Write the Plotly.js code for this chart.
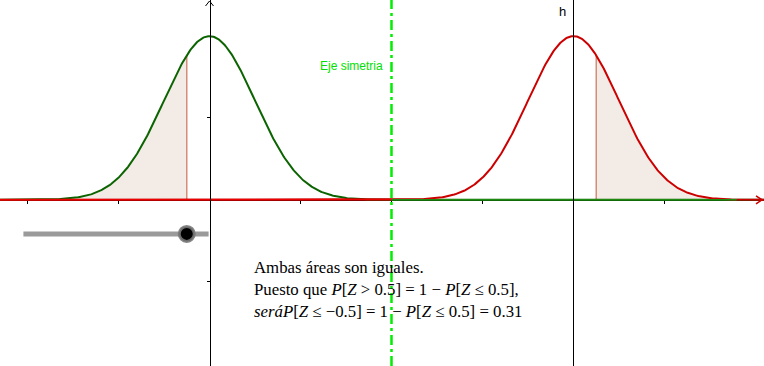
<!DOCTYPE html>
<html>
<head>
<meta charset="utf-8">
<script src="https://cdn.plot.ly/plotly-3.0.1.min.js"></script>
<style>html,body{margin:0;padding:0;background:#fff;}#chart{width:764px;height:366px;}</style>
</head>
<body>
<div id="chart"></div>
<script>
// ---- data ----
const curveNames = ["f", "g"];
const curveMeans = [0, 8];
const curveSds = [1, 1];
const cutOffsets = [-0.5, 0.5];      // shaded tail boundary relative to each mean
const symmetryAxis = [4];
const xTickVals = [-4, -2, 2, 4, 6, 8, 10];
const yTickVals = [-0.2, 0.2];
const sliderRange = [-4.09, -0.02];
const sliderLevel = [-0.083];
const textLines = [
  "Ambas áreas son iguales.",
  "Puesto que <i>P</i>[<i>Z</i> &gt; 0.5] = 1 − <i>P</i>[<i>Z</i> ≤ 0.5],",
  "<i>será</i><i>P</i>[<i>Z</i> ≤ −0.5] = 1 − <i>P</i>[<i>Z</i> ≤ 0.5] = 0.31"
];
const symLabel = "Eje simetria";
const hLabel = "h";

// ---- styles ----
const xRange = [-4.6044, 12.1868];
const yRange = [-0.405, 0.487];
const curveColors = ["#0b6400", "#cc0000"];
const fillColor = "#f3ebe6";
const cutColor = "rgb(214,140,118)";

function pdf(x, m, s) {
  return Math.exp(-((x - m) * (x - m)) / (2 * s * s)) / (s * Math.sqrt(2 * Math.PI));
}
function grid(a, b, n) {
  const out = [];
  for (let i = 0; i <= n; i++) out.push(a + (b - a) * i / n);
  return out;
}

const traces = [];
// shaded tails
curveMeans.forEach((m, i) => {
  const c = m + cutOffsets[i];
  const xs = cutOffsets[i] < 0 ? grid(xRange[0] - 0.2, c, 300) : grid(c, xRange[1] + 0.2, 300);
  const ys = xs.map(x => pdf(x, m, curveSds[i]));
  xs.push(xs[xs.length - 1]); ys.push(0);
  xs.unshift(xs[0]); ys.unshift(0);
  traces.push({x: xs, y: ys, mode: "lines", line: {width: 0}, fill: "toself",
    fillcolor: fillColor, hoverinfo: "skip"});
  traces.push({x: [c, c], y: [0, pdf(c, m, curveSds[i])], mode: "lines",
    line: {color: cutColor, width: 1.5}, hoverinfo: "skip"});
});
// curves
[0, 1].forEach(i => {
  const xs = grid(xRange[0] - 0.2, xRange[1] + 0.2, 900);
  traces.push({x: xs, y: xs.map(x => pdf(x, curveMeans[i], curveSds[i])), mode: "lines",
    name: curveNames[i], line: {color: curveColors[i], width: 2}, hoverinfo: "skip"});
});
// bright red tail on the left of the symmetry axis
{
  const xs = grid(xRange[0] - 0.2, symmetryAxis[0], 300);
  traces.push({x: xs, y: xs.map(x => pdf(x, curveMeans[1], curveSds[1])), mode: "lines",
    line: {color: "#ee0000", width: 1.5}, hoverinfo: "skip"});
}
// green tail again on the right side of the symmetry axis
{
  const xs = grid(symmetryAxis[0], xRange[1] - 0.6, 300);
  traces.push({x: xs, y: xs.map(x => pdf(x, curveMeans[0], curveSds[0])), mode: "lines",
    line: {color: "#1f8a10", width: 1.5}, hoverinfo: "skip"});
}
// slider knob
traces.push({x: [curveMeans[0] + cutOffsets[0]], y: [sliderLevel[0]], mode: "markers",
  marker: {size: 15, color: "#000", line: {color: "rgba(120,120,120,0.9)", width: 3}}, hoverinfo: "skip"});

const yAxisPos = (0 - xRange[0]) / (xRange[1] - xRange[0]);
const xAxisPos = (0 - yRange[0]) / (yRange[1] - yRange[0]);

const shapes = [
  // h line at mean of second curve
  {type: "line", xref: "x", yref: "paper", x0: curveMeans[1], x1: curveMeans[1], y0: 0, y1: 1,
    line: {color: "#000", width: 1}, layer: "above"},
  // symmetry axis
  {type: "line", xref: "x", yref: "paper", x0: symmetryAxis[0], x1: symmetryAxis[0], y0: 0, y1: 1,
    line: {color: "#00ee00", width: 2.5, dash: "10px,4px,3px,4px"}, layer: "above"},
  // slider bar
  {type: "line", xref: "x", yref: "y", x0: sliderRange[0], x1: sliderRange[1], y0: sliderLevel[0], y1: sliderLevel[0],
    line: {color: "#9a9a9a", width: 5}, layer: "below"},
  // y axis arrow
  {type: "path", xref: "x", yref: "paper", xsizemode: "pixel", ysizemode: "pixel", xanchor: 0, yanchor: 1,
    path: "M-4,-6 L0,-1 L4,-6", line: {color: "#000", width: 1}},
  // x axis arrow
  {type: "path", xref: "paper", yref: "y", xsizemode: "pixel", ysizemode: "pixel", xanchor: 1, yanchor: 0,
    path: "M-8,4 L-2,0 L-8,-4", line: {color: "#cc0000", width: 1.5}}
];

const annotations = [
  {x: symmetryAxis[0], y: 0.327, xref: "x", yref: "y", xanchor: "right", yanchor: "middle", xshift: -7,
    text: symLabel, showarrow: false, font: {family: "Liberation Sans, Arial, sans-serif", size: 12, color: "#00e000"}},
  {x: curveMeans[1], y: 1, xref: "x", yref: "paper", xanchor: "right", yanchor: "top", xshift: -6, yshift: -2,
    text: hLabel, showarrow: false, font: {family: "Liberation Sans, Arial, sans-serif", size: 13, color: "#000"}}
];
const textY = [-0.166, -0.219, -0.273];
textLines.forEach((t, i) => {
  annotations.push({x: 0.94, y: textY[i], xref: "x", yref: "y", xanchor: "left", yanchor: "middle",
    text: t, showarrow: false, font: {family: "Liberation Serif, Times New Roman, serif", size: 16.8, color: "#000"}});
});

const layout = {
  width: 764, height: 366, margin: {l: 0, r: 0, t: 0, b: 0},
  paper_bgcolor: "#fff", plot_bgcolor: "#fff", showlegend: false,
  xaxis: {range: xRange, showgrid: false, zeroline: false, showline: true, linecolor: "#000", linewidth: 1,
    anchor: "free", position: xAxisPos, ticks: "outside", ticklen: 3, tickcolor: "#000", tickwidth: 1,
    tickvals: xTickVals, showticklabels: false, layer: "below traces", fixedrange: true},
  yaxis: {range: yRange, showgrid: false, zeroline: false, showline: true, linecolor: "#000", linewidth: 1,
    anchor: "free", position: yAxisPos, ticks: "outside", ticklen: 3, tickcolor: "#000", tickwidth: 1,
    tickvals: yTickVals, showticklabels: false, layer: "above traces", fixedrange: true},
  shapes: shapes, annotations: annotations
};
Plotly.newPlot("chart", traces, layout, {staticPlot: true, displayModeBar: false});
</script>
</body>
</html>
